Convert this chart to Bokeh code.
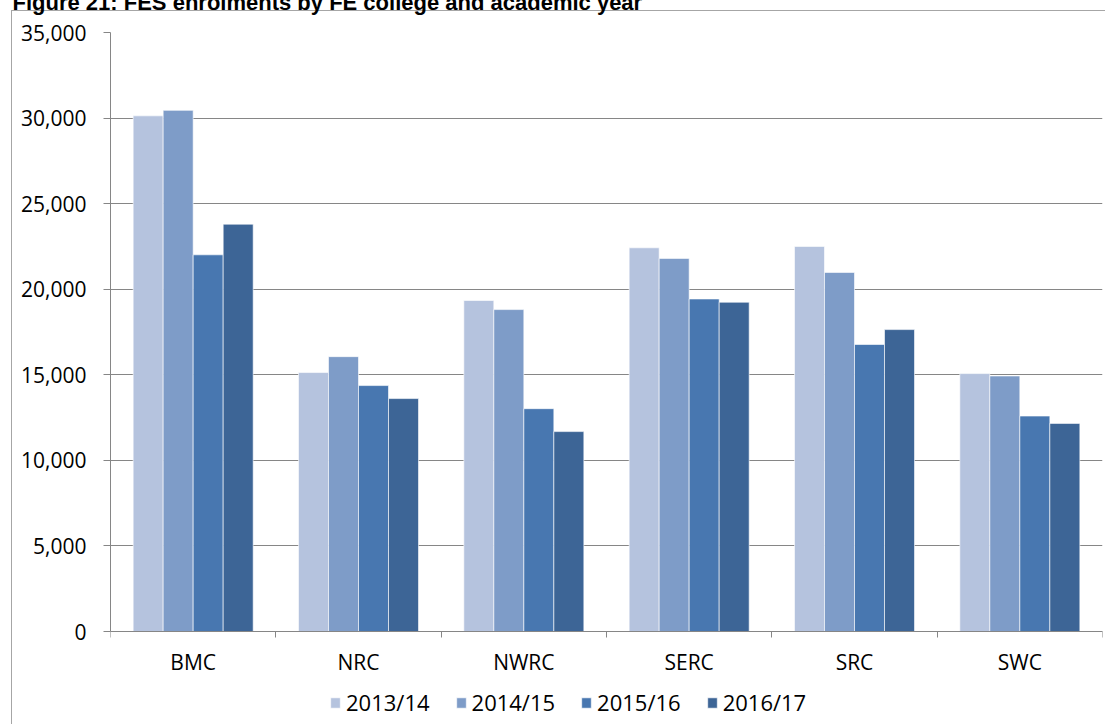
from bokeh.plotting import figure
from bokeh.models import (Range1d, FixedTicker, NumeralTickFormatter, Legend,
                          LegendItem, Title, ColumnDataSource)
from bokeh.embed import file_html
from bokeh.resources import INLINE

colleges = ["BMC", "NRC", "NWRC", "SERC", "SRC", "SWC"]
years = ["2013/14", "2014/15", "2015/16", "2016/17"]
v2013_14 = [30130, 15130, 19340, 22420, 22500, 15070]
v2014_15 = [30450, 16060, 18810, 21800, 20980, 14930]
v2015_16 = [22010, 14370, 13020, 19430, 16770, 12590]
v2016_17 = [23800, 13610, 11680, 19240, 17640, 12160]
series = [v2013_14, v2014_15, v2015_16, v2016_17]
colors = ["#B5C3DE", "#7E9CC8", "#4877B0", "#3D6596"]
y_ticks = [0, 5000, 10000, 15000, 20000, 25000, 30000, 35000]
title_text = "Figure 21: FES enrolments by FE college and academic year"

FONT = "Open Sans"
GRID = "#868686"
Y_MAX = 35000
Y_MIN = -5434  # room under the axis for category labels and legend

p = figure(frame_width=992, frame_height=692, output_backend="svg", toolbar_location=None,
           x_range=Range1d(0, len(colleges)), y_range=Range1d(Y_MIN, Y_MAX),
           min_border_left=110, min_border_right=3, min_border_top=62,
           min_border_bottom=0)
p.styles = {
    "margin-top": "-30px",
    "background-image": "linear-gradient(#a6a6a6,#a6a6a6), linear-gradient(#a6a6a6,#a6a6a6)",
    "background-size": "1px 100%, 100% 1px",
    "background-position": "11px 40px, 11px 40px",
    "background-repeat": "no-repeat",
}
p.border_fill_color = None
p.background_fill_color = "white"
p.outline_line_color = None

bw = 0.1815
offsets = [-1.5 * bw, -0.5 * bw, 0.5 * bw, 1.5 * bw]
items = []
for yr, vals, col, off in zip(years, series, colors, offsets):
    src = ColumnDataSource(dict(x=[i + 0.5 + off for i in range(len(colleges))], top=vals))
    r = p.vbar(x="x", top="top", width=bw, source=src, fill_color=col,
               line_color="white", line_alpha=0.6, line_width=1)
    items.append(LegendItem(label=yr, renderers=[r]))

# y axis
p.yaxis.ticker = FixedTicker(ticks=y_ticks)
p.yaxis.bounds = (0, Y_MAX)
p.yaxis.formatter = NumeralTickFormatter(format="0,0")
p.yaxis.major_tick_out = 7
p.yaxis.major_tick_in = 0
p.yaxis.minor_tick_out = 0
p.yaxis.axis_line_color = GRID
p.yaxis.major_tick_line_color = GRID
p.yaxis.major_label_text_font = FONT
p.yaxis.major_label_text_font_size = "21px"
p.yaxis.major_label_text_color = "black"
p.yaxis.major_label_standoff = 17

# x axis, drawn at y = 0 inside the frame
p.xaxis.fixed_location = 0
p.xaxis.ticker = FixedTicker(ticks=[i + 0.5 for i in range(len(colleges))],
                             minor_ticks=list(range(len(colleges) + 1)))
p.xaxis.major_label_overrides = {i + 0.5: c for i, c in enumerate(colleges)}
p.xaxis.major_tick_out = 0
p.xaxis.major_tick_in = 0
p.xaxis.minor_tick_out = 6
p.xaxis.minor_tick_in = 0
p.xaxis.minor_tick_line_color = GRID
p.xaxis.axis_line_color = GRID
p.xaxis.major_label_text_font = FONT
p.xaxis.major_label_text_font_size = "21px"
p.xaxis.major_label_text_color = "black"
p.xaxis.major_label_standoff = 10

p.xgrid.grid_line_color = None
p.ygrid.ticker = FixedTicker(ticks=y_ticks)
p.ygrid.grid_line_color = GRID

legend = Legend(items=items, orientation="horizontal", location=(219, 7),
                glyph_width=12, glyph_height=13, label_standoff=5, spacing=25,
                padding=6, margin=0,
                label_text_font=FONT, label_text_font_size="22px",
                label_text_color="black",
                background_fill_alpha=0, border_line_color=None)
p.add_layout(legend, "center")

title = Title(text=title_text, align="left", offset=-98, standoff=35,
              text_font="Liberation Sans", text_font_style="bold",
              text_font_size="22px", text_color="black")
p.add_layout(title, "above")

open("out.html", "w").write(file_html(p, INLINE))
